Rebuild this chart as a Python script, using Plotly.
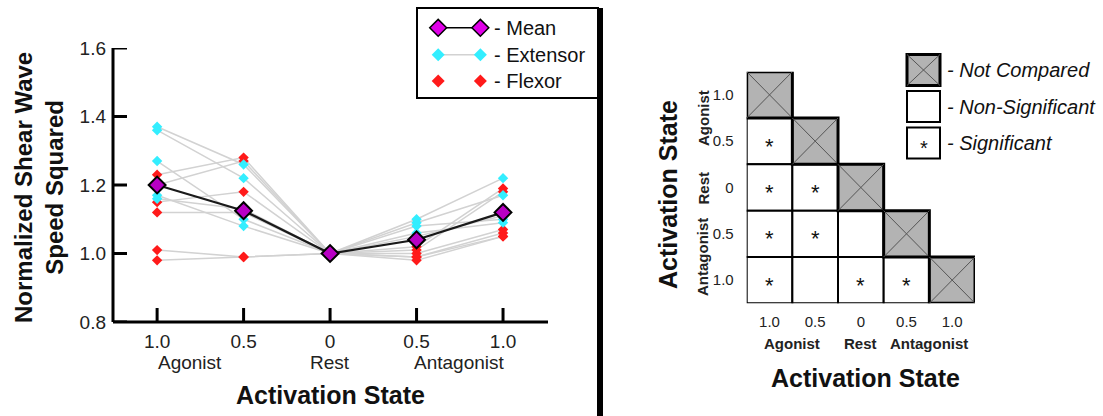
import plotly.graph_objects as go

# ---------------- data ----------------
states = ["1.0", "0.5", "0", "0.5", "1.0"]
groups = ["Agonist", "Rest", "Antagonist"]
group_pos = [0.38, 2.0, 3.5]

mean_vals = [1.20, 1.125, 1.00, 1.04, 1.12]

extensor_1 = [1.37, 1.26, 1.00, 1.10, 1.22]
extensor_2 = [1.36, 1.22, 1.00, 1.09, 1.17]
extensor_3 = [1.27, 1.10, 1.00, 1.08, 1.10]
extensor_4 = [1.17, 1.08, 1.00, 1.06, 1.09]
extensor_5 = [1.16, 1.13, 1.00, 1.05, 1.11]

flexor_1 = [1.23, 1.28, 1.00, 1.02, 1.19]
flexor_2 = [1.20, 1.27, 1.00, 1.01, 1.18]
flexor_3 = [1.15, 1.18, 1.00, 1.00, 1.07]
flexor_4 = [1.12, 1.12, 1.00, 0.99, 1.06]
flexor_5 = [1.01, 0.99, 1.00, 0.98, 1.05]
flexor_6 = [0.98, 0.99, 1.00, 0.99, 1.05]

extensors = [extensor_1, extensor_2, extensor_3, extensor_4, extensor_5]
flexors = [flexor_1, flexor_2, flexor_3, flexor_4, flexor_5, flexor_6]

y_ticks = [0.8, 1.0, 1.2, 1.4, 1.6]

# significance matrix (lower triangle): 1 = significant, 0 = non-significant, None = not compared
sig_matrix = [
    [None],
    [1, None],
    [1, 1, None],
    [1, 1, 0, None],
    [1, 0, 1, 1, None],
]
matrix_groups = ["Agonist", "Rest", "Antagonist"]
matrix_group_pos = [0.5, 2.0, 3.5]

legend_left = ["- Mean", "- Extensor", "- Flexor"]
legend_right = ["- Not Compared", "- Non-Significant", "- Significant"]

# ---------------- figure ----------------
W, H = 1103, 416
FONT = "Liberation Sans, Arial, Helvetica, sans-serif"
CYAN = "#33eeff"
RED = "#ff1a1a"
MAG = "#b800c4"
GRAY_LINE = "#d2d2d2"

def px(x):
    return x / W

def py(y):
    return (H - y) / H

def ann(**kw):
    kw.setdefault("showarrow", False)
    kw.setdefault("xanchor", "center")
    kw.setdefault("yanchor", "middle")
    return kw

xs = list(range(len(states)))
fig = go.Figure()

for s in extensors + flexors:
    fig.add_trace(go.Scatter(x=xs, y=s, mode="lines",
                             line=dict(color=GRAY_LINE, width=1.5),
                             hoverinfo="skip", showlegend=False))
for s in flexors:
    fig.add_trace(go.Scatter(x=xs, y=s, mode="markers",
                             marker=dict(symbol="diamond", size=8, color=RED),
                             showlegend=False))
for s in extensors:
    fig.add_trace(go.Scatter(x=xs, y=s, mode="markers",
                             marker=dict(symbol="diamond", size=8, color=CYAN),
                             showlegend=False))
fig.add_trace(go.Scatter(x=xs, y=mean_vals, mode="lines+markers",
                         line=dict(color="#1a1a1a", width=2.2),
                         marker=dict(symbol="diamond", size=13, color=MAG,
                                     line=dict(color="black", width=2)),
                         showlegend=False))

shapes = []
annotations = []

# ---------------- left axes frame (line + inward ticks) ----------------
AX_W_PX, AX_H_PX = 548 - 113, 322 - 48
TICK_PX = 14
shapes.append(dict(type="line", xref="x domain", yref="y domain", x0=0, x1=1, y0=0, y1=0,
                   line=dict(color="black", width=3), layer="above"))
shapes.append(dict(type="line", xref="x domain", yref="y domain", x0=0, x1=0, y0=0, y1=1,
                   line=dict(color="black", width=3), layer="above"))
for v in y_ticks:
    shapes.append(dict(type="line", xref="x domain", yref="y", x0=0, x1=TICK_PX / AX_W_PX,
                       y0=v, y1=v, line=dict(color="black", width=3), layer="above"))
for xv in xs:
    shapes.append(dict(type="line", xref="x", yref="y domain", x0=xv, x1=xv,
                       y0=0, y1=TICK_PX / AX_H_PX, line=dict(color="black", width=3),
                       layer="above"))

# ---------------- significance matrix ----------------
n = len(sig_matrix)
for i, row in enumerate(sig_matrix):
    for j, v in enumerate(row):
        if v is None:
            continue
        shapes.append(dict(type="rect", xref="x2", yref="y2",
                           x0=j - 0.5, x1=j + 0.5, y0=i - 0.5, y1=i + 0.5,
                           line=dict(color="black", width=2), fillcolor="white"))
        if v == 1:
            annotations.append(ann(xref="x2", yref="y2", x=j, y=i, text="*", yshift=-5,
                                   font=dict(family=FONT, size=22, color="#111")))
for i, row in enumerate(sig_matrix):
    for j, v in enumerate(row):
        if v is not None:
            continue
        shapes.append(dict(type="rect", xref="x2", yref="y2",
                           x0=j - 0.5, x1=j + 0.5, y0=i - 0.5, y1=i + 0.5,
                           line=dict(color="black", width=3), fillcolor="#b3b3b3"))
        shapes.append(dict(type="line", xref="x2", yref="y2",
                           x0=j - 0.5, x1=j + 0.5, y0=i - 0.5, y1=i + 0.5,
                           line=dict(color="#555", width=1)))
        shapes.append(dict(type="line", xref="x2", yref="y2",
                           x0=j - 0.5, x1=j + 0.5, y0=i + 0.5, y1=i - 0.5,
                           line=dict(color="#555", width=1)))

fig.add_trace(go.Scatter(x=[0, n - 1], y=[0, n - 1], xaxis="x2", yaxis="y2",
                         mode="markers", marker=dict(opacity=0), hoverinfo="skip",
                         showlegend=False))

# ---------------- left legend ----------------
leg_y = [0.78, 0.48, 0.19]
fig.add_trace(go.Scatter(x=[0.117, 0.35], y=[leg_y[0]] * 2, xaxis="x3", yaxis="y3",
                         mode="lines+markers", line=dict(color="black", width=1.5),
                         marker=dict(symbol="diamond", size=13, color="#e000e8",
                                     line=dict(color="black", width=1.5)),
                         showlegend=False, hoverinfo="skip"))
fig.add_trace(go.Scatter(x=[0.117, 0.35], y=[leg_y[1]] * 2, xaxis="x3", yaxis="y3",
                         mode="lines+markers", line=dict(color=GRAY_LINE, width=1.5),
                         marker=dict(symbol="diamond", size=10, color=CYAN),
                         showlegend=False, hoverinfo="skip"))
fig.add_trace(go.Scatter(x=[0.117, 0.35], y=[leg_y[2]] * 2, xaxis="x3", yaxis="y3",
                         mode="markers",
                         marker=dict(symbol="diamond", size=10, color=RED),
                         showlegend=False, hoverinfo="skip"))
for t, yy in zip(legend_left, leg_y):
    annotations.append(ann(xref="x3", yref="y3", x=0.415, y=yy, text=t, xanchor="left",
                           font=dict(family=FONT, size=20, color="#111")))

shapes.append(dict(type="rect", xref="paper", yref="paper",
                   x0=px(417), x1=px(598), y0=py(98), y1=py(8),
                   line=dict(color="black", width=2), fillcolor="rgba(0,0,0,0)"))
shapes.append(dict(type="line", xref="paper", yref="paper",
                   x0=px(600), x1=px(600), y0=py(8), y1=py(416),
                   line=dict(color="black", width=6)))

# ---------------- right legend ----------------
box_c = [70, 106.5, 143]
bx0, bx1 = 907, 940
for k, (t, cy) in enumerate(zip(legend_right, box_c)):
    y0, y1 = py(cy + 15.5), py(cy - 15.5)
    if k == 0:
        shapes.append(dict(type="rect", xref="paper", yref="paper", x0=px(bx0), x1=px(bx1),
                           y0=y0, y1=y1, line=dict(color="black", width=3), fillcolor="#b3b3b3"))
        shapes.append(dict(type="line", xref="paper", yref="paper", x0=px(bx0), x1=px(bx1),
                           y0=y0, y1=y1, line=dict(color="#555", width=1)))
        shapes.append(dict(type="line", xref="paper", yref="paper", x0=px(bx0), x1=px(bx1),
                           y0=y1, y1=y0, line=dict(color="#555", width=1)))
    else:
        shapes.append(dict(type="rect", xref="paper", yref="paper", x0=px(bx0), x1=px(bx1),
                           y0=y0, y1=y1, line=dict(color="black", width=2), fillcolor="white"))
        if k == 2:
            annotations.append(ann(xref="paper", yref="paper", x=px((bx0 + bx1) / 2), y=py(cy),
                                   text="*", yshift=-5,
                                   font=dict(family=FONT, size=20, color="#111")))
    annotations.append(ann(xref="paper", yref="paper", x=px(945), y=py(cy),
                           text="<i>" + t + "</i>", xanchor="left",
                           font=dict(family=FONT, size=20, color="#111")))

# ---------------- axis labels ----------------
for g, gx in zip(groups, group_pos):
    annotations.append(ann(xref="x", yref="paper", x=gx, y=py(362), text=g,
                           font=dict(family=FONT, size=19, color="#222")))
annotations.append(ann(xref="paper", yref="paper", x=px(330), y=py(395),
                       text="<b>Activation State</b>",
                       font=dict(family=FONT, size=25, color="#111")))
annotations.append(ann(xref="paper", yref="paper", x=px(39), y=py(188),
                       text="<b>Normalized Shear Wave<br>Speed Squared</b>",
                       textangle=-90, font=dict(family=FONT, size=24, color="#111")))

for g, gx in zip(matrix_groups, matrix_group_pos):
    annotations.append(ann(xref="x2", yref="paper", x=gx, y=py(343), text="<b>" + g + "</b>",
                           font=dict(family=FONT, size=15, color="#222")))
    annotations.append(ann(xref="paper", yref="y2", x=px(703), y=gx, text="<b>" + g + "</b>",
                           textangle=-90, font=dict(family=FONT, size=15, color="#222")))
annotations.append(ann(xref="paper", yref="paper", x=px(865), y=py(378),
                       text="<b>Activation State</b>",
                       font=dict(family=FONT, size=25, color="#111")))
annotations.append(ann(xref="paper", yref="paper", x=px(668), y=py(195),
                       text="<b>Activation State</b>", textangle=-90,
                       font=dict(family=FONT, size=25, color="#111")))

fig.update_layout(
    width=W, height=H,
    margin=dict(l=0, r=0, t=0, b=0, pad=0, autoexpand=False),
    paper_bgcolor="white", plot_bgcolor="rgba(0,0,0,0)",
    showlegend=False,
    font=dict(family=FONT, color="#222"),
    xaxis=dict(domain=[px(113), px(548)], range=[-0.51, 4.52],
               tickvals=xs, ticktext=states, ticks="", showline=False,
               showgrid=False, zeroline=False, ticklabelstandoff=6,
               tickfont=dict(family=FONT, size=19, color="#222"),
               anchor="y", automargin=False),
    yaxis=dict(domain=[py(322), py(48)], range=[0.8, 1.6],
               tickvals=y_ticks, ticktext=["%.1f" % v for v in y_ticks],
               ticks="", showline=False, showgrid=False, zeroline=False,
               ticklabelstandoff=6,
               tickfont=dict(family=FONT, size=19, color="#222"), anchor="x", automargin=False),
    xaxis2=dict(domain=[px(746.7), px(975)], range=[-0.5, n - 0.5],
                tickvals=list(range(n)), ticktext=states, ticks="", showline=False,
                showgrid=False, zeroline=False, anchor="y2", ticklabelstandoff=8,
                tickfont=dict(family=FONT, size=15, color="#222"), automargin=False),
    yaxis2=dict(domain=[py(303.3), py(71.7)], range=[n - 0.5, -0.5],
                tickvals=list(range(n)), ticktext=states, ticks="", showline=False,
                showgrid=False, zeroline=False, anchor="x2", ticklabelstandoff=12,
                tickfont=dict(family=FONT, size=15, color="#222"), automargin=False),
    xaxis3=dict(domain=[px(417), px(598)], range=[0, 1], visible=False, anchor="y3"),
    yaxis3=dict(domain=[py(98), py(8)], range=[0, 1], visible=False, anchor="x3"),
    shapes=shapes,
    annotations=annotations,
)

fig.write_html("out.html")
